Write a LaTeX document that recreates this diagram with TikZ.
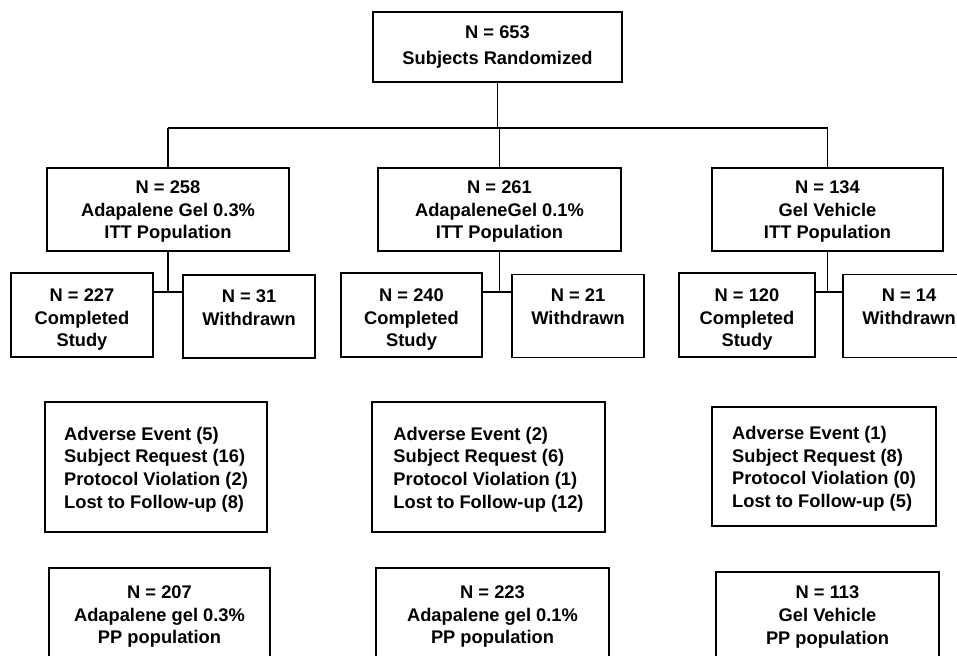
\documentclass[tikz,border=0pt]{standalone}
\usepackage{fontspec}
\setmainfont{Liberation Sans}
\newcommand\mylift[1]{\rule{0pt}{#1}}
\begin{document}
\begin{tikzpicture}[x=1pt,y=-1pt,
  box/.style={draw, line width=1.3pt, inner sep=0pt, align=center,
    font=\bfseries\fontsize{18.3}{22.7}\selectfont},
  reasonbox/.style={box, align=left},
  link/.style={line width=1.3pt}]
\useasboundingbox (0,0) rectangle (957,655);
\clip (0,0) rectangle (957,655);
% top
\node[box, minimum width=249pt, minimum height=70pt] (top) at (497.5,47) {N = 653\\[3pt]Subjects Randomized};
% groups
\node[box, minimum width=242pt, minimum height=83pt] (g1) at (168,209.5) {\mylift{17pt}N = 258\\Adapalene Gel 0.3\%\\ITT Population};
\node[box, minimum width=243pt, minimum height=83pt] (g2) at (499.5,209.5) {\mylift{17pt}N = 261\\AdapaleneGel 0.1\%\\ITT Population};
\node[box, minimum width=231pt, minimum height=83pt] (g3) at (827.5,209.5) {\mylift{17pt}N = 134\\Gel Vehicle\\ITT Population};
% completed / withdrawn
\node[box, minimum width=142pt, minimum height=84pt] (c1) at (82,315) {\mylift{22pt}N = 227\\Completed\\Study};
\node[box, minimum width=132pt, minimum height=83pt] (w1) at (249,316.5) {\mylift{17pt}N = 31\\Withdrawn\\\mbox{}};
\node[box, minimum width=141pt, minimum height=84pt] (c2) at (411.5,315) {\mylift{22pt}N = 240\\Completed\\Study};
\node[box, minimum width=132pt, minimum height=83pt] (w2) at (578,316) {\mylift{17pt}N = 21\\Withdrawn\\\mbox{}};
\node[box, minimum width=136pt, minimum height=84pt] (c3) at (747,315) {\mylift{22pt}N = 120\\Completed\\Study};
\node[box, minimum width=132pt, minimum height=83pt] (w3) at (909,316) {\mylift{17pt}N = 14\\Withdrawn\\\mbox{}};
% reasons
\node[reasonbox, minimum width=222pt, minimum height=130pt] (r1) at (156,467) {\mylift{18pt}Adverse Event (5)\\Subject Request (16)\\Protocol Violation (2)\\Lost to Follow-up (8)};
\node[reasonbox, minimum width=233pt, minimum height=130pt] (r2) at (488.5,467) {\mylift{18pt}Adverse Event (2)\\Subject Request (6)\\Protocol Violation (1)\\Lost to Follow-up (12)};
\node[reasonbox, minimum width=224pt, minimum height=119pt] (r3) at (824,466.5) {\mylift{18pt}Adverse Event (1)\\Subject Request (8)\\Protocol Violation (0)\\Lost to Follow-up (5)};
% PP
\node[box, minimum width=221pt, minimum height=92pt] (p1) at (159.5,614) {\mylift{18pt}N = 207\\Adapalene gel 0.3\%\\PP population};
\node[box, minimum width=233pt, minimum height=92pt] (p2) at (492.5,614) {\mylift{18pt}N = 223\\Adapalene gel 0.1\%\\PP population};
\node[box, minimum width=223pt, minimum height=86pt] (p3) at (827.5,615) {\mylift{17pt}N = 113\\Gel Vehicle\\PP population};
% connectors
\coordinate (bus) at (0,128);
\coordinate (j) at (0,292);
\draw[link] (top.south) -- (top.south |- bus);
\draw[link] (g1.north |- bus) -- (g3.north |- bus);
\draw[link] (g1.north |- bus) -- (g1.north);
\draw[link] (g2.north |- bus) -- (g2.north);
\draw[link] (g3.north |- bus) -- (g3.north);
\draw[link] (g1.south) -- (g1.south |- j);
\draw[link] (j -| c1.east) -- (j -| w1.west);
\draw[link] (g2.south) -- (g2.south |- j);
\draw[link] (j -| c2.east) -- (j -| w2.west);
\draw[link] (g3.south) -- (g3.south |- j);
\draw[link] (j -| c3.east) -- (j -| w3.west);
\end{tikzpicture}
\end{document}
